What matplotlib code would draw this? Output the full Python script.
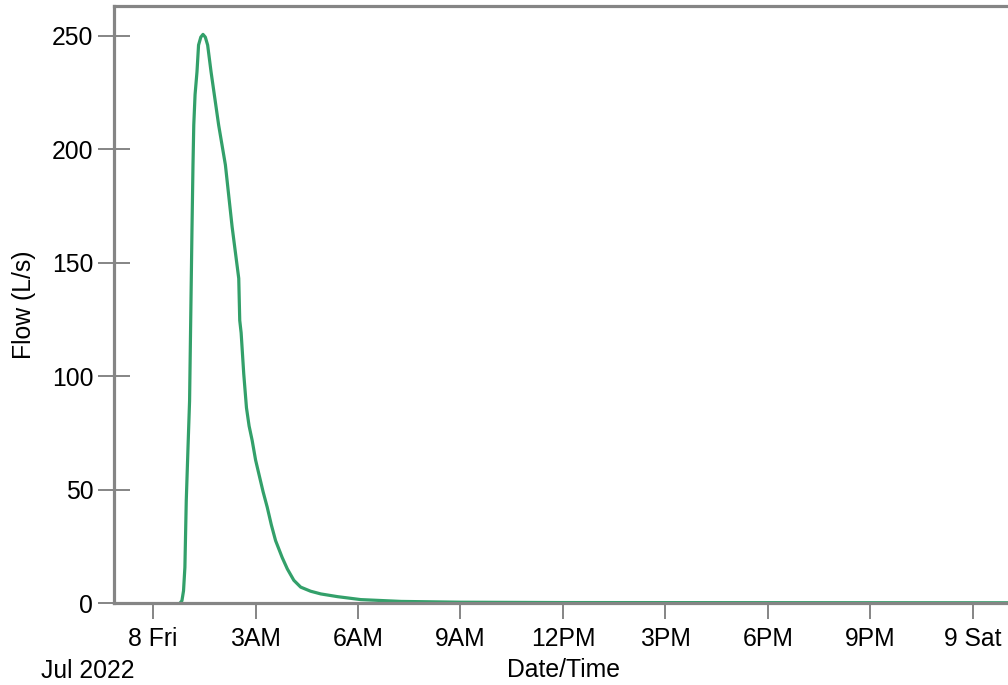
import matplotlib
matplotlib.use('Agg')
import matplotlib.pyplot as plt
import matplotlib.dates as mdates
import pandas as pd

plt.rcParams['font.family'] = ['Liberation Sans', 'DejaVu Sans']

# flow hydrograph: hours after 8 Jul 00:00, flow in L/s
hours = [0.79, 0.843, 0.89, 0.93, 0.97, 1.02, 1.067, 1.108, 1.137, 1.167, 1.19,
         1.228, 1.284, 1.33, 1.396, 1.46, 1.528, 1.596, 1.696, 1.81, 1.919, 2.116,
         2.313, 2.507, 2.536, 2.577, 2.653, 2.733, 2.81, 2.90, 3.0, 3.094,
         3.22, 3.341, 3.46, 3.585, 3.78, 3.93, 4.12, 4.32, 4.61, 4.91,
         5.4, 6.08, 7.26, 9.0, 11.9, 25.2]
flow = [0, 1, 5.4, 15.7, 45, 68, 89, 133, 164, 193, 210.6,
        224, 234, 245.8, 249.3, 250.5, 249.3, 245.8, 234, 222, 210.5, 193,
        165.7, 143, 124.5, 119, 101, 86, 78, 71.6, 63, 57,
        49, 42.2, 34.5, 27.5, 20, 15, 10, 7, 5.2, 4,
        2.8, 1.5, 0.7, 0.35, 0.2, 0.1]

tick_times = ['2022-07-08 00:00', '2022-07-08 03:00', '2022-07-08 06:00',
              '2022-07-08 09:00', '2022-07-08 12:00', '2022-07-08 15:00',
              '2022-07-08 18:00', '2022-07-08 21:00', '2022-07-09 00:00']
tick_labels = ['8 Fri', '3AM', '6AM', '9AM', '12PM', '3PM', '6PM', '9PM', '9 Sat']
y_ticks = [0, 50, 100, 150, 200, 250]

t = pd.Timestamp('2022-07-08') + pd.to_timedelta(hours, unit='h')
grey = '#858585'
fs = 17.8

fig = plt.figure(figsize=(10.08, 6.85), dpi=100)
ax = fig.add_axes([0.1131, 0.1197, 0.892, 0.8715])
ax.plot(t, flow, color='#33a06a', lw=2.3, zorder=1, solid_joinstyle='round')

ax.set_xlim(pd.Timestamp('2022-07-07 22:51:15'), pd.Timestamp('2022-07-09 01:11:00'))
ax.set_ylim(0, 263)
ax.set_xticks(mdates.date2num(pd.to_datetime(tick_times)))
ax.set_xticklabels(tick_labels)
ax.set_yticks(y_ticks)

for s in ['left', 'bottom', 'top']:
    ax.spines[s].set_color(grey)
    ax.spines[s].set_linewidth(2.3)
    ax.spines[s].set_zorder(3)
ax.spines['right'].set_visible(False)

ax.tick_params(axis='x', direction='out', length=11.5, width=1.4, color=grey,
               labelsize=fs, pad=5.5)
ax.tick_params(axis='y', direction='inout', length=23, width=1.4, color=grey,
               labelsize=fs, pad=3.5)

ax.set_ylabel('Flow (L/s)', fontsize=fs, labelpad=11)
ax.set_xlabel('Date/Time', fontsize=fs, labelpad=5.5)
fig.text(0.041, 0.0105, 'Jul 2022', fontsize=fs, ha='left', va='baseline')

fig.savefig('out.png', dpi=100)
